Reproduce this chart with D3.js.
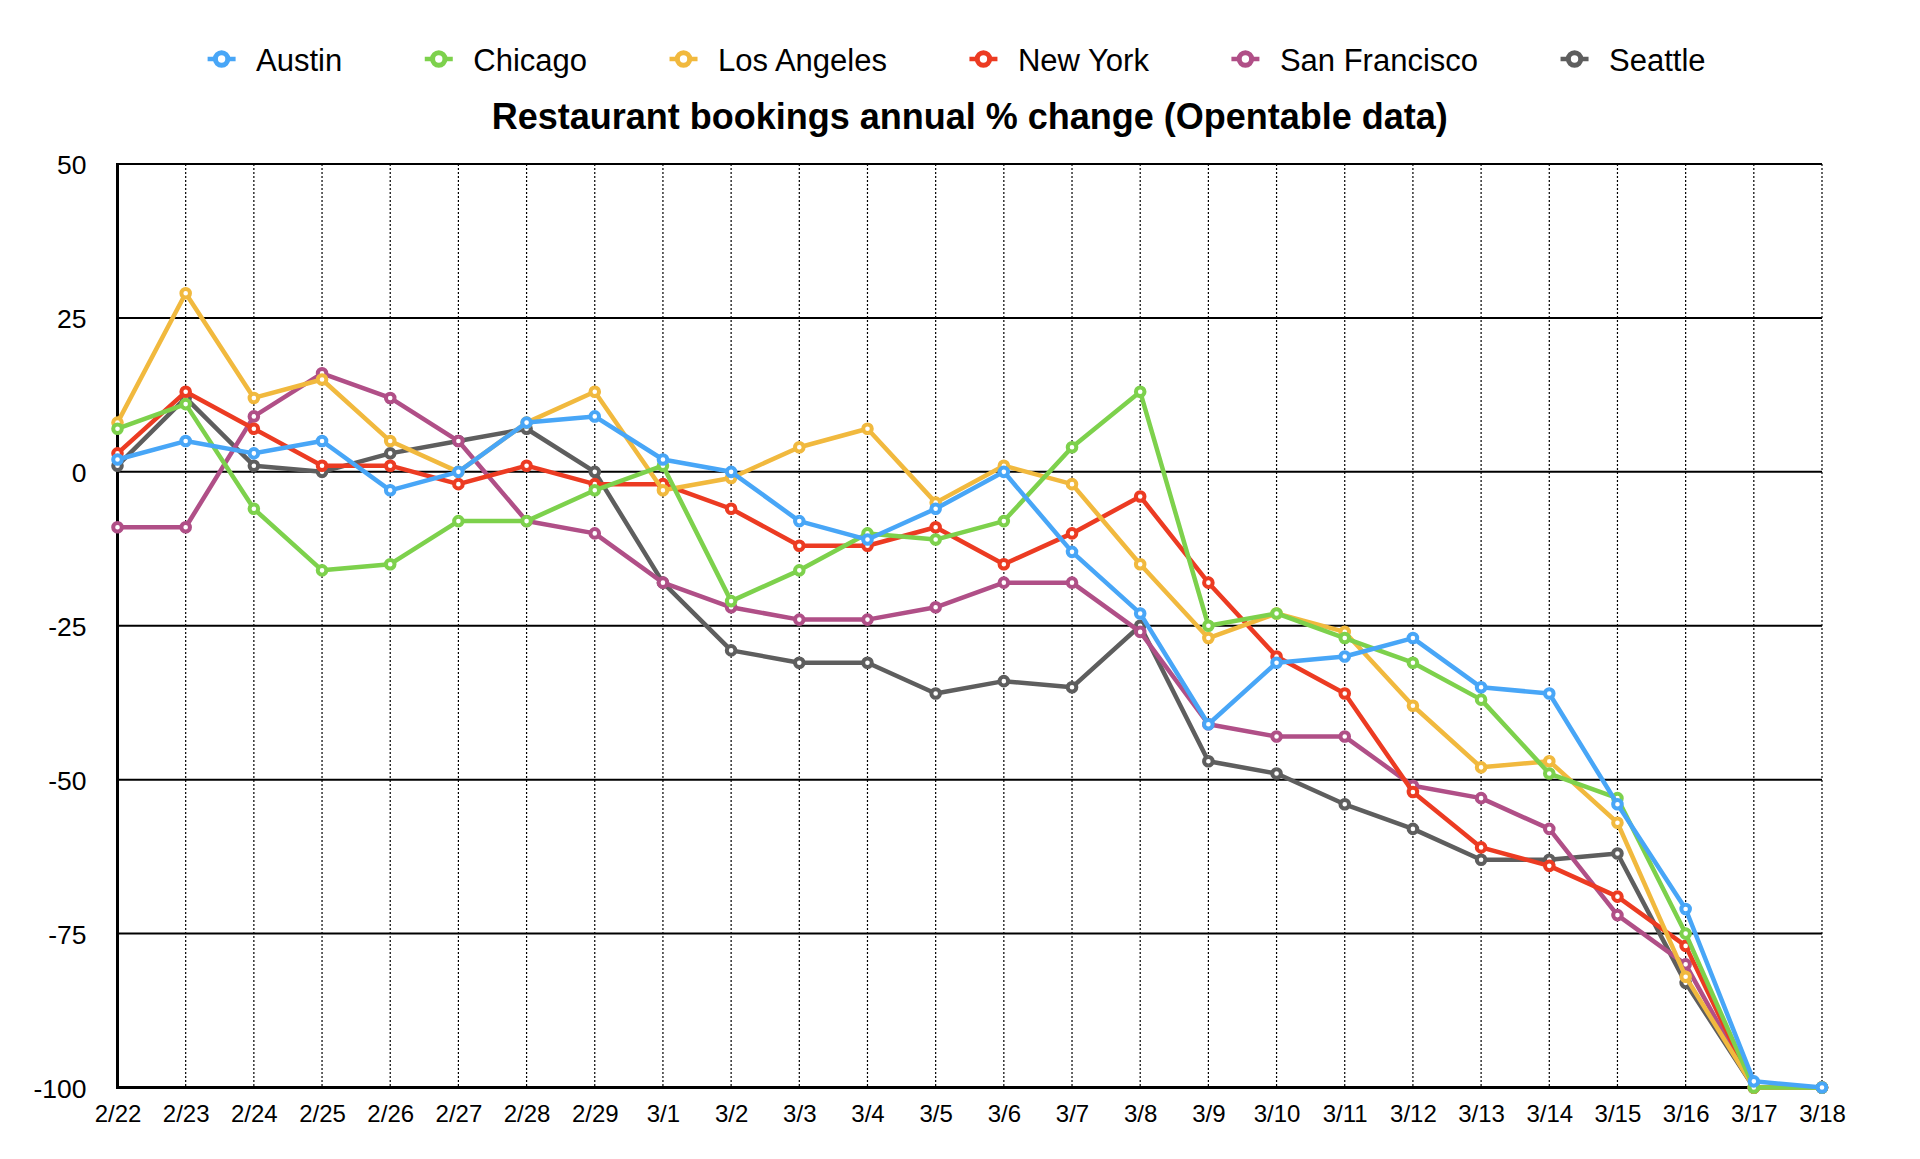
<!DOCTYPE html>
<html>
<head>
<meta charset="utf-8">
<script src="https://cdn.jsdelivr.net/npm/d3@7"></script>
<style>
  html, body { margin: 0; padding: 0; background: #fff; }
  svg { display: block; font-family: "Liberation Sans", Arial, Helvetica, sans-serif; }
</style>
</head>
<body>
<svg id="chart" width="1920" height="1159"></svg>
<script>
const dates = ["2/22","2/23","2/24","2/25","2/26","2/27","2/28","2/29","3/1","3/2","3/3","3/4","3/5","3/6","3/7","3/8","3/9","3/10","3/11","3/12","3/13","3/14","3/15","3/16","3/17","3/18"];
const yTicks = [50, 25, 0, -25, -50, -75, -100];

const austin       = [2, 5, 3, 5, -3, 0, 8, 9, 2, 0, -8, -11, -6, 0, -13, -23, -41, -31, -30, -27, -35, -36, -54, -71, -99, -100];
const chicago      = [7, 11, -6, -16, -15, -8, -8, -3, 1, -21, -16, -10, -11, -8, 4, 13, -25, -23, -27, -31, -37, -49, -53, -75, -100, -100];
const losAngeles   = [8, 29, 12, 15, 5, 0, 8, 13, -3, -1, 4, 7, -5, 1, -2, -15, -27, -23, -26, -38, -48, -47, -57, -82, -100, -100];
const newYork      = [3, 13, 7, 1, 1, -2, 1, -2, -2, -6, -12, -12, -9, -15, -10, -4, -18, -30, -36, -52, -61, -64, -69, -77, -100, -100];
const sanFrancisco = [-9, -9, 9, 16, 12, 5, -8, -10, -18, -22, -24, -24, -22, -18, -18, -26, -41, -43, -43, -51, -53, -58, -72, -80, -100, -100];
const seattle      = [1, 12, 1, 0, 3, 5, 7, 0, -18, -29, -31, -31, -36, -34, -35, -25, -47, -49, -54, -58, -63, -63, -62, -83, -100, -100];

const seriesNames  = ["Austin", "Chicago", "Los Angeles", "New York", "San Francisco", "Seattle"];
const seriesValues = [austin, chicago, losAngeles, newYork, sanFrancisco, seattle];
const seriesColors = ["#48a6f7", "#7dd14c", "#f1b93e", "#ec3b22", "#b04f87", "#5e5e5e"];
const titleText = "Restaurant bookings annual % change (Opentable data)";

(function () {
const svg = d3.select("#chart");
const pLeft = 117.5, pRight = 1822, pTop = 164, pBottom = 1087.5;

const x = d3.scalePoint().domain(dates).range([pLeft, pRight]);
const y = d3.scaleLinear().domain([-100, 50]).range([pBottom, pTop]);

// vertical dotted grid
svg.append("g").selectAll("line").data(dates).join("line")
  .attr("x1", d => x(d)).attr("x2", d => x(d))
  .attr("y1", pTop).attr("y2", pBottom)
  .attr("stroke", "#000").attr("stroke-width", 1.2)
  .attr("stroke-dasharray", "2,2");

// horizontal grid
svg.append("g").selectAll("line").data(yTicks).join("line")
  .attr("x1", pLeft).attr("x2", pRight)
  .attr("y1", d => y(d)).attr("y2", d => y(d))
  .attr("stroke", "#000").attr("stroke-width", d => d === -100 ? 3 : 2);

// left axis line
svg.append("line").attr("x1", pLeft).attr("x2", pLeft).attr("y1", pTop - 1).attr("y2", pBottom + 1.5)
  .attr("stroke", "#000").attr("stroke-width", 3);

// y axis labels
const yAxis = svg.append("g").attr("transform", `translate(${pLeft - 31},0)`)
  .call(d3.axisLeft(y).tickValues(yTicks).tickSize(0).tickPadding(0).tickFormat(d => String(d)));
yAxis.select(".domain").remove();
yAxis.selectAll("text").attr("font-size", 26.5).attr("fill", "#000")
  .attr("font-family", "'Liberation Sans', Arial, sans-serif").attr("dy", "0.36em");

// x axis labels
const xAxis = svg.append("g").attr("transform", `translate(0,${pBottom})`)
  .call(d3.axisBottom(x).tickSize(0).tickPadding(0));
xAxis.select(".domain").remove();
xAxis.selectAll("text").attr("font-size", 24).attr("fill", "#000")
  .attr("font-family", "'Liberation Sans', Arial, sans-serif")
  .attr("y", 34.5).attr("dy", 0);

// series: drawn in reverse so Austin is on top
const line = d3.line().x((d, i) => x(dates[i])).y(d => y(d));
for (let s = seriesNames.length - 1; s >= 0; s--) {
  const g = svg.append("g");
  g.append("path").datum(seriesValues[s])
    .attr("d", line).attr("fill", "none")
    .attr("stroke", seriesColors[s]).attr("stroke-width", 4.5)
    .attr("stroke-linejoin", "round");
  g.selectAll("circle").data(seriesValues[s]).join("circle")
    .attr("cx", (d, i) => x(dates[i])).attr("cy", d => y(d))
    .attr("r", 4.3).attr("fill", "#fff")
    .attr("stroke", seriesColors[s]).attr("stroke-width", 4);
}

// title
svg.append("text").attr("x", (pLeft + pRight) / 2).attr("y", 129)
  .attr("text-anchor", "middle").attr("font-size", 36).attr("font-weight", "bold")
  .attr("fill", "#000").text(titleText);

// legend
const legend = svg.append("g");
let lx = 221.6;
const ly = 59;
seriesNames.forEach((name, i) => {
  const item = legend.append("g");
  item.append("line").attr("x1", lx - 14).attr("x2", lx + 14).attr("y1", ly).attr("y2", ly)
    .attr("stroke", seriesColors[i]).attr("stroke-width", 4.5);
  item.append("circle").attr("cx", lx).attr("cy", ly).attr("r", 6.2)
    .attr("fill", "#fff").attr("stroke", seriesColors[i]).attr("stroke-width", 5);
  const t = item.append("text").attr("x", lx + 34.5).attr("y", ly + 11.5)
    .attr("font-size", 31).attr("fill", "#000").text(name);
  const w = t.node().getComputedTextLength();
  lx = lx + 34.5 + w + 96.5;
});
})();
</script>
</body>
</html>
